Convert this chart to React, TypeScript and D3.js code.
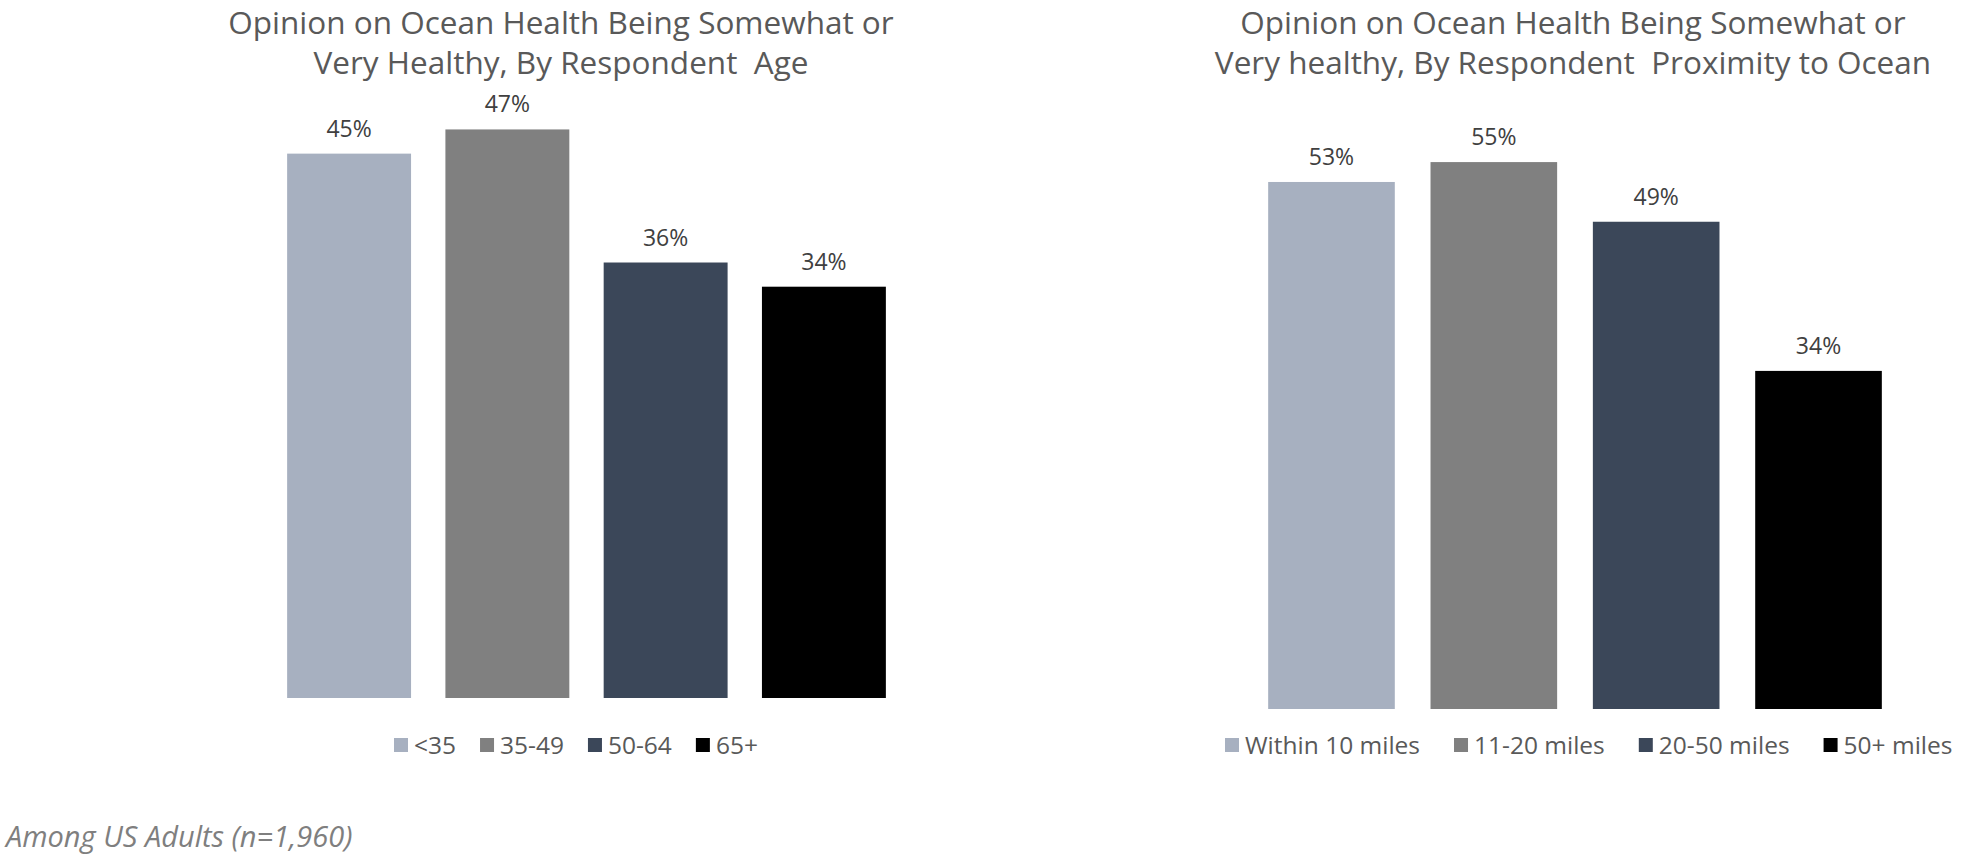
import React, { useRef, useEffect } from "react";
import * as d3 from "d3";

const ageCategories = ["<35", "35-49", "50-64", "65+"];
const ageValues = [45, 47, 36, 34];
const proximityCategories = ["Within 10 miles", "11-20 miles", "20-50 miles", "50+ miles"];
const proximityValues = [53, 55, 49, 34];
const barColors = ["#A7B0C0", "#808080", "#3B4759", "#000000"];

const ageTitle = ["Opinion on Ocean Health Being Somewhat or", "Very Healthy, By Respondent  Age"];
const proximityTitle = ["Opinion on Ocean Health Being Somewhat or", "Very healthy, By Respondent  Proximity to Ocean"];
const footnote = "Among US Adults (n=1,960)";

const FONT = "'Open Sans', 'Noto Sans', sans-serif";

interface PanelSpec {
  categories: string[];
  values: number[];
  title: string[];
  titleX: number;
  xRange: [number, number];
  padding: number;
  baseY: number;
  yMax: number;
  legendX: number;
  legendGap: number;
}

const panels: PanelSpec[] = [
  {
    categories: ageCategories,
    values: ageValues,
    title: ageTitle,
    titleX: 561,
    xRange: [208, 965],
    padding: 0.217,
    baseY: 698,
    yMax: 57.7,
    legendX: 394,
    legendGap: 24,
  },
  {
    categories: proximityCategories,
    values: proximityValues,
    title: proximityTitle,
    titleX: 1573,
    xRange: [1187, 1963],
    padding: 0.22,
    baseY: 709,
    yMax: 71.3,
    legendX: 1225,
    legendGap: 34,
  },
];

const App: React.FC = () => {
  const svgRef = useRef<SVGSVGElement | null>(null);

  useEffect(() => {
    const svg = d3.select(svgRef.current);
    svg.selectAll("*").remove();

    panels.forEach((p) => {
      const g = svg.append("g");
      const x = d3
        .scaleBand<string>()
        .domain(p.categories)
        .range(p.xRange)
        .paddingInner(p.padding)
        .paddingOuter(0.5);
      const y = d3.scaleLinear().domain([0, p.yMax]).range([p.baseY, 0]);
      const color = d3.scaleOrdinal<string, string>().domain(p.categories).range(barColors);

      // title
      const title = g
        .append("text")
        .attr("text-anchor", "middle")
        .style("font-family", FONT)
        .style("font-size", "31.5px")
        .style("fill", "#595959");
      p.title.forEach((line, i) => {
        title
          .append("tspan")
          .attr("x", p.titleX)
          .attr("y", 34 + i * 40)
          .style("white-space", "pre")
          .text(line);
      });

      // bars
      g.selectAll("rect.bar")
        .data(p.values)
        .enter()
        .append("rect")
        .attr("class", "bar")
        .attr("x", (_, i) => x(p.categories[i]) as number)
        .attr("width", x.bandwidth())
        .attr("y", (d) => y(d))
        .attr("height", (d) => p.baseY - y(d))
        .attr("fill", (_, i) => color(p.categories[i]));

      // value labels
      g.selectAll("text.val")
        .data(p.values)
        .enter()
        .append("text")
        .attr("class", "val")
        .attr("x", (_, i) => (x(p.categories[i]) as number) + x.bandwidth() / 2)
        .attr("y", (d) => y(d) - 17)
        .attr("text-anchor", "middle")
        .style("font-family", FONT)
        .style("font-size", "23px")
        .style("fill", "#404040")
        .text((d) => `${d}%`);

      // legend
      let lx = p.legendX;
      p.categories.forEach((c) => {
        g.append("rect")
          .attr("x", lx)
          .attr("y", 738)
          .attr("width", 14)
          .attr("height", 14)
          .attr("fill", color(c));
        const t = g
          .append("text")
          .attr("x", lx + 20)
          .attr("y", 754)
          .style("font-family", FONT)
          .style("font-size", "24.5px")
          .style("fill", "#595959")
          .text(c);
        const w = (t.node() as SVGTextElement).getComputedTextLength();
        lx += 20 + w + p.legendGap;
      });
    });

    svg
      .append("text")
      .attr("x", 6)
      .attr("y", 847)
      .style("font-family", FONT)
      .style("font-size", "29px")
      .style("font-style", "italic")
      .style("fill", "#7F7F7F")
      .text(footnote);
  }, []);

  return (
    <svg
      ref={svgRef}
      width={1964}
      height={854}
      style={{ position: "absolute", left: 0, top: 0, background: "#fff" }}
    />
  );
};

export default App;
